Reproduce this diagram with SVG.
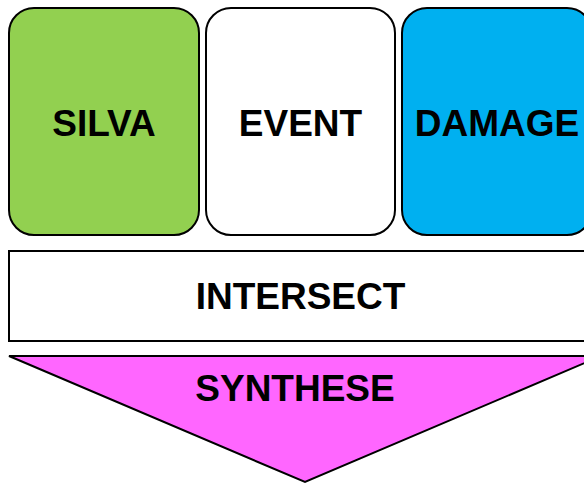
<svg xmlns="http://www.w3.org/2000/svg" width="584" height="484" viewBox="0 0 584 484">
<style>
.box{stroke:#000;stroke-width:2}
.lbl{font-family:"Liberation Sans",Arial,sans-serif;font-weight:bold;font-size:37px;fill:#000;text-anchor:middle}
</style>
<rect width="584" height="484" fill="#fff"/>
<g id="silva">
<rect class="box" x="9" y="8" width="190" height="227" rx="25" fill="#92D050"/>
<text class="lbl" x="104" y="136">SILVA</text>
</g>
<g id="event">
<rect class="box" x="206" y="8" width="189" height="227" rx="25" fill="#fff"/>
<text class="lbl" x="300.5" y="136">EVENT</text>
</g>
<g id="damage">
<rect class="box" x="402" y="8" width="190" height="227" rx="25" fill="#00B0F0"/>
<text class="lbl" x="497" y="136">DAMAGE</text>
</g>
<g id="intersect">
<rect class="box" x="9" y="251" width="583" height="90" fill="#fff"/>
<text class="lbl" x="300.5" y="309">INTERSECT</text>
</g>
<g id="synthese">
<polygon class="box" points="9,356 601,356 305,482" fill="#FF66FF"/>
<text class="lbl" x="295" y="401">SYNTHESE</text>
</g>
<g id="connectors"></g>
</svg>
